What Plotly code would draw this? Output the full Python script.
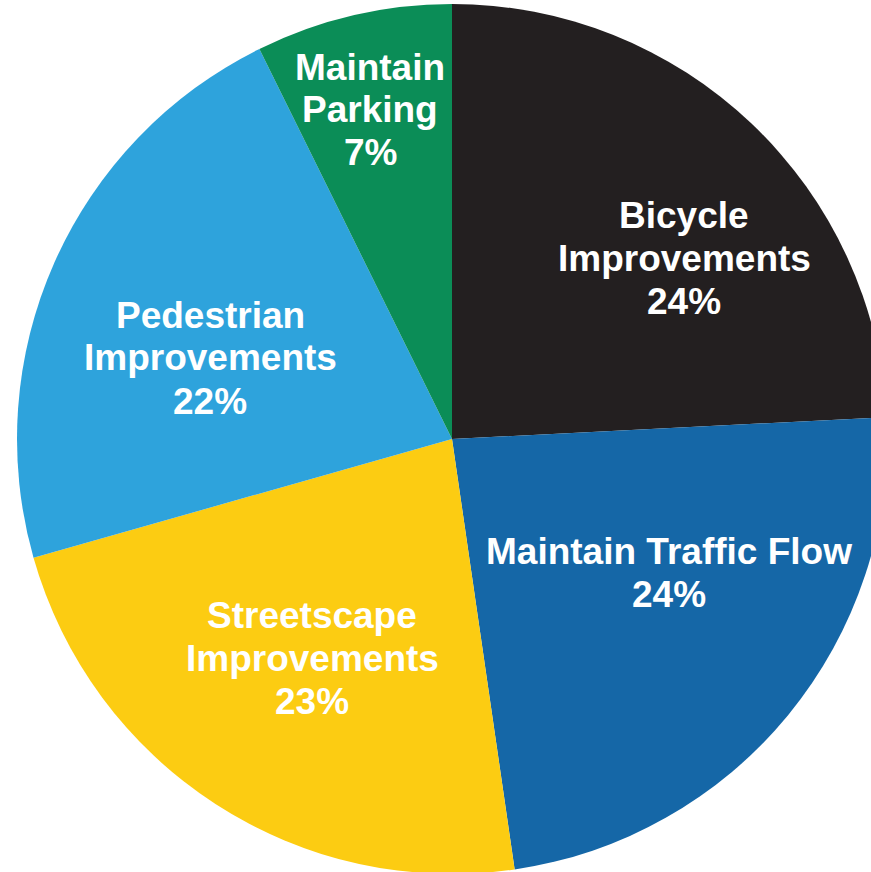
import plotly.graph_objects as go

categories = ["Bicycle Improvements", "Maintain Traffic Flow", "Streetscape Improvements",
              "Pedestrian Improvements", "Maintain Parking"]
values = [24.2, 23.5, 22.9, 22.1, 7.3]
label_lines = [
    ["Bicycle", "Improvements", "24%"],
    ["Maintain Traffic Flow", "24%"],
    ["Streetscape", "Improvements", "23%"],
    ["Pedestrian", "Improvements", "22%"],
    ["Maintain", "Parking", "7%"],
]
colors = ["#231f20", "#1567a7", "#fccc12", "#2ea3dc", "#0b8d57"]

# Layout constants (pixels)
W, H = 887, 874
ML, MR, MT, MB = 17, 0, 4, 0
PW, PH = W - ML - MR, H - MT - MB

# label block centres in pixels (x, y) and line spacing
label_centers = [(684, 258), (669, 573), (312, 658), (210, 358), (370, 110)]
line_gap = 43
font_size = 37

fig = go.Figure(go.Pie(
    labels=categories,
    values=values,
    sort=False,
    direction="clockwise",
    rotation=0,
    marker=dict(colors=colors, line=dict(width=0)),
    textinfo="none",
    hoverinfo="label",
    showlegend=False,
))

annotations = []
for lines, (cx, cy) in zip(label_lines, label_centers):
    n = len(lines)
    for i, t in enumerate(lines):
        py = cy + (i - (n - 1) / 2) * line_gap
        annotations.append(dict(
            text=t, x=(cx - ML) / PW, y=1 - (py - MT) / PH,
            xref="paper", yref="paper", xanchor="center", yanchor="middle",
            showarrow=False,
            font=dict(family="Liberation Sans, Arial, sans-serif", size=font_size,
                      color="white", weight="bold"),
        ))

fig.update_layout(
    width=W, height=H,
    margin=dict(l=ML, r=MR, t=MT, b=MB),
    paper_bgcolor="white",
    plot_bgcolor="white",
    annotations=annotations,
)

fig.write_html(
    "out.html",
    config={"displayModeBar": False},
    post_script="document.body.style.margin='0';document.body.style.overflow='hidden';"
                "document.documentElement.style.overflow='hidden';",
)
